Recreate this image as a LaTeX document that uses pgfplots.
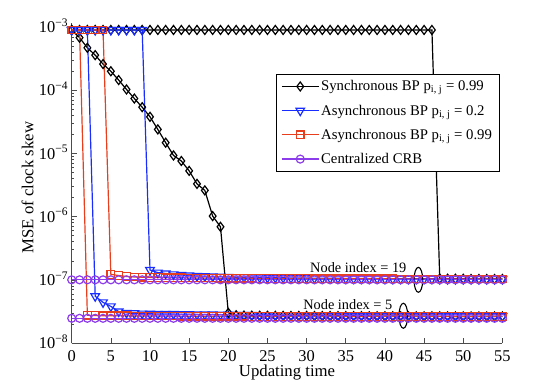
\documentclass[border=0pt]{standalone}
\usepackage{fontspec}
\setmainfont{Liberation Serif}
\usepackage{pgfplots}
\pgfplotsset{compat=1.18}
\usetikzlibrary{shapes.geometric}

\definecolor{myblue}{RGB}{25,45,255}
\definecolor{myred}{RGB}{232,62,30}
\definecolor{mypurple}{RGB}{140,60,235}

\begin{document}
\begin{tikzpicture}
\begin{axis}[
  scale only axis, width=430.7bp, height=320bp,
  ymode=log, xmin=0, xmax=55, ymin=1e-8, ymax=1.16e-3,
  axis x line*=bottom, axis y line*=left,
  axis line style={black!70, line width=0.8pt},
  tick style={black!70, line width=0.6pt},
  tick align=inside,
  major tick length=5bp, minor tick length=2.5bp,
  xtick={0,5,...,55},
  ytick={1e-8,1e-7,1e-6,1e-5,1e-4,1e-3},
  yticklabels={10\textsuperscript{−8},10\textsuperscript{−7},10\textsuperscript{−6},10\textsuperscript{−5},10\textsuperscript{−4},10\textsuperscript{−3}},
  minor ytick={2e-8,3e-8,4e-8,5e-8,6e-8,7e-8,8e-8,9e-8,
               2e-7,3e-7,4e-7,5e-7,6e-7,7e-7,8e-7,9e-7,
               2e-6,3e-6,4e-6,5e-6,6e-6,7e-6,8e-6,9e-6,
               2e-5,3e-5,4e-5,5e-5,6e-5,7e-5,8e-5,9e-5,
               2e-4,3e-4,4e-4,5e-4,6e-4,7e-4,8e-4,9e-4},
  /pgf/number format/assume math mode=true,
  tick label style={font=\fontsize{16.5}{18}\selectfont},
  xticklabel style={anchor=base, yshift=-18.7bp},
  yticklabel style={anchor=base east, yshift=-5.6bp},
  xlabel={Updating time},
  ylabel={MSE of clock skew},
  label style={font=\fontsize{16.8}{19}\selectfont},
  xlabel style={at={(axis description cs:0.5,-0.106)}, anchor=base},
  ylabel style={at={(axis description cs:-0.1026,0.486)}, anchor=center, rotate=0},
  legend style={at={(axis description cs:0.993,0.84)}, anchor=north east,
    draw=black, line width=0.8pt, fill=white, font=\fontsize{14.8}{16}\selectfont,
    inner xsep=5bp, inner ysep=4bp, row sep=8.5bp},
  legend cell align=left,
  legend image code/.code={\draw[mark repeat=2,mark phase=2] plot coordinates {(0bp,0bp)(18.3bp,0bp)(36.6bp,0bp)};},
  every axis plot/.append style={line width=1.2pt, mark options={solid}},
]

% Synchronous BP, node 19
\addplot[black, mark=diamond, mark size=4.5pt] coordinates {
(0,9e-4)(1,9e-4)(2,9e-4)(3,9e-4)(4,9e-4)(5,9e-4)(6,9e-4)(7,9e-4)(8,9e-4)(9,9e-4)
(10,9e-4)(11,9e-4)(12,9e-4)(13,9e-4)(14,9e-4)(15,9e-4)(16,9e-4)(17,9e-4)(18,9e-4)(19,9e-4)
(20,9e-4)(21,9e-4)(22,9e-4)(23,9e-4)(24,9e-4)(25,9e-4)(26,9e-4)(27,9e-4)(28,9e-4)(29,9e-4)
(30,9e-4)(31,9e-4)(32,9e-4)(33,9e-4)(34,9e-4)(35,9e-4)(36,9e-4)(37,9e-4)(38,9e-4)(39,9e-4)
(40,9e-4)(41,9e-4)(42,9e-4)(43,9e-4)(44,9e-4)(45,9e-4)(46,9e-4)
(47,1.05e-7)(48,1.04e-7)(49,1.04e-7)(50,1.04e-7)(51,1.03e-7)(52,1.03e-7)(53,1.03e-7)(54,1.03e-7)(55,1.03e-7)
};
\addlegendentry{Synchronous BP p\textsubscript{i, j} = 0.99}
% Synchronous BP, node 5
\addplot[black, mark=diamond, mark size=4.5pt, forget plot] coordinates {
(0,9e-4)(1,6.8e-4)(2,4.7e-4)(3,3.6e-4)(4,2.6e-4)(5,2.0e-4)(6,1.45e-4)(7,1.03e-4)(8,7.4e-5)(9,5.4e-5)
(10,3.8e-5)(11,2.4e-5)(12,1.48e-5)(13,9.3e-6)(14,7.6e-6)(15,5.3e-6)(16,3.3e-6)(17,2.6e-6)(18,1.02e-6)(19,6.9e-7)
(20,3.0e-8)(21,2.75e-8)(22,2.72e-8)(23,2.71e-8)(24,2.7e-8)(25,2.7e-8)(26,2.69e-8)(27,2.69e-8)(28,2.68e-8)(29,2.68e-8)
(30,2.68e-8)(31,2.67e-8)(32,2.67e-8)(33,2.67e-8)(34,2.66e-8)(35,2.66e-8)(36,2.66e-8)(37,2.66e-8)(38,2.65e-8)(39,2.65e-8)
(40,2.65e-8)(41,2.65e-8)(42,2.65e-8)(43,2.64e-8)(44,2.64e-8)(45,2.64e-8)(46,2.64e-8)(47,2.64e-8)(48,2.64e-8)(49,2.63e-8)
(50,2.63e-8)(51,2.63e-8)(52,2.63e-8)(53,2.63e-8)(54,2.63e-8)(55,2.63e-8)
};

% Asynchronous BP p=0.2, node 19
\addplot[myblue, mark=triangle, mark size=5pt, mark options={rotate=180}] coordinates {
(0,9e-4)(1,9e-4)(2,9e-4)(3,9e-4)(4,9e-4)(5,9e-4)(6,9e-4)(7,9e-4)(8,9e-4)(9,9e-4)
(10,1.43e-7)(11,1.30e-7)(12,1.26e-7)(13,1.22e-7)(14,1.19e-7)(15,1.17e-7)(16,1.15e-7)(17,1.14e-7)(18,1.13e-7)(19,1.12e-7)
(20,1.11e-7)(21,1.10e-7)(22,1.10e-7)(23,1.09e-7)(24,1.09e-7)(25,1.08e-7)(26,1.08e-7)(27,1.08e-7)(28,1.07e-7)(29,1.07e-7)
(30,1.07e-7)(31,1.06e-7)(32,1.06e-7)(33,1.06e-7)(34,1.06e-7)(35,1.05e-7)(36,1.05e-7)(37,1.05e-7)(38,1.05e-7)(39,1.05e-7)
(40,1.04e-7)(41,1.04e-7)(42,1.04e-7)(43,1.04e-7)(44,1.04e-7)(45,1.04e-7)(46,1.04e-7)(47,1.03e-7)(48,1.03e-7)(49,1.03e-7)
(50,1.03e-7)(51,1.03e-7)(52,1.03e-7)(53,1.03e-7)(54,1.03e-7)(55,1.03e-7)
};
\addlegendentry{Asynchronous BP p\textsubscript{i, j} = 0.2}
% Asynchronous BP p=0.2, node 5
\addplot[myblue, mark=triangle, mark size=5pt, mark options={rotate=180}, forget plot] coordinates {
(0,9e-4)(1,9e-4)(2,9e-4)
(3,5.5e-8)(4,4.4e-8)(5,3.8e-8)(6,3.15e-8)(7,3.0e-8)(8,2.95e-8)(9,2.92e-8)
(10,2.9e-8)(11,2.89e-8)(12,2.88e-8)(13,2.87e-8)(14,2.86e-8)(15,2.85e-8)(16,2.84e-8)(17,2.83e-8)(18,2.82e-8)(19,2.81e-8)
(20,2.8e-8)(21,2.79e-8)(22,2.78e-8)(23,2.77e-8)(24,2.76e-8)(25,2.75e-8)(26,2.75e-8)(27,2.74e-8)(28,2.74e-8)(29,2.73e-8)
(30,2.73e-8)(31,2.72e-8)(32,2.72e-8)(33,2.71e-8)(34,2.71e-8)(35,2.7e-8)(36,2.7e-8)(37,2.7e-8)(38,2.69e-8)(39,2.69e-8)
(40,2.69e-8)(41,2.68e-8)(42,2.68e-8)(43,2.68e-8)(44,2.67e-8)(45,2.67e-8)(46,2.67e-8)(47,2.66e-8)(48,2.66e-8)(49,2.66e-8)
(50,2.66e-8)(51,2.65e-8)(52,2.65e-8)(53,2.65e-8)(54,2.65e-8)(55,2.65e-8)
};

% Asynchronous BP p=0.99, node 19
\addplot[myred, mark=square, mark size=3.8pt] coordinates {
(0,9e-4)(1,9e-4)(2,9e-4)(3,9e-4)(4,9e-4)
(5,1.22e-7)(6,1.17e-7)(7,1.13e-7)(8,1.11e-7)(9,1.10e-7)
(10,1.09e-7)(11,1.09e-7)(12,1.08e-7)(13,1.08e-7)(14,1.08e-7)(15,1.07e-7)(16,1.07e-7)(17,1.07e-7)(18,1.07e-7)(19,1.06e-7)
(20,1.06e-7)(21,1.06e-7)(22,1.06e-7)(23,1.06e-7)(24,1.05e-7)(25,1.05e-7)(26,1.05e-7)(27,1.05e-7)(28,1.05e-7)(29,1.05e-7)
(30,1.05e-7)(31,1.04e-7)(32,1.04e-7)(33,1.04e-7)(34,1.04e-7)(35,1.04e-7)(36,1.04e-7)(37,1.04e-7)(38,1.04e-7)(39,1.04e-7)
(40,1.04e-7)(41,1.04e-7)(42,1.03e-7)(43,1.03e-7)(44,1.03e-7)(45,1.03e-7)(46,1.03e-7)(47,1.03e-7)(48,1.03e-7)(49,1.03e-7)
(50,1.03e-7)(51,1.03e-7)(52,1.03e-7)(53,1.03e-7)(54,1.03e-7)(55,1.03e-7)
};
\addlegendentry{Asynchronous BP p\textsubscript{i, j} = 0.99}
% Asynchronous BP p=0.99, node 5
\addplot[myred, mark=square, mark size=3.8pt, forget plot] coordinates {
(0,9e-4)(1,9e-4)
(2,2.75e-8)(3,2.72e-8)(4,2.7e-8)(5,2.7e-8)(6,2.69e-8)(7,2.69e-8)(8,2.68e-8)(9,2.68e-8)
(10,2.68e-8)(11,2.67e-8)(12,2.67e-8)(13,2.67e-8)(14,2.66e-8)(15,2.66e-8)(16,2.66e-8)(17,2.66e-8)(18,2.65e-8)(19,2.65e-8)
(20,2.65e-8)(21,2.65e-8)(22,2.65e-8)(23,2.64e-8)(24,2.64e-8)(25,2.64e-8)(26,2.64e-8)(27,2.64e-8)(28,2.64e-8)(29,2.63e-8)
(30,2.63e-8)(31,2.63e-8)(32,2.63e-8)(33,2.63e-8)(34,2.63e-8)(35,2.63e-8)(36,2.62e-8)(37,2.62e-8)(38,2.62e-8)(39,2.62e-8)
(40,2.62e-8)(41,2.62e-8)(42,2.62e-8)(43,2.62e-8)(44,2.62e-8)(45,2.62e-8)(46,2.62e-8)(47,2.62e-8)(48,2.62e-8)(49,2.62e-8)
(50,2.62e-8)(51,2.62e-8)(52,2.62e-8)(53,2.62e-8)(54,2.62e-8)(55,2.62e-8)
};

% Centralized CRB, node 19
\addplot[mypurple, mark=o, mark size=4pt] coordinates {
(0,1e-7)(1,1e-7)(2,1e-7)(3,1e-7)(4,1e-7)(5,1e-7)(6,1e-7)(7,1e-7)(8,1e-7)(9,1e-7)
(10,1e-7)(11,1e-7)(12,1e-7)(13,1e-7)(14,1e-7)(15,1e-7)(16,1e-7)(17,1e-7)(18,1e-7)(19,1e-7)
(20,1e-7)(21,1e-7)(22,1e-7)(23,1e-7)(24,1e-7)(25,1e-7)(26,1e-7)(27,1e-7)(28,1e-7)(29,1e-7)
(30,1e-7)(31,1e-7)(32,1e-7)(33,1e-7)(34,1e-7)(35,1e-7)(36,1e-7)(37,1e-7)(38,1e-7)(39,1e-7)
(40,1e-7)(41,1e-7)(42,1e-7)(43,1e-7)(44,1e-7)(45,1e-7)(46,1e-7)(47,1e-7)(48,1e-7)(49,1e-7)
(50,1e-7)(51,1e-7)(52,1e-7)(53,1e-7)(54,1e-7)(55,1e-7)
};
\addlegendentry{Centralized CRB}
% Centralized CRB, node 5
\addplot[mypurple, mark=o, mark size=4pt, forget plot] coordinates {
(0,2.46e-8)(1,2.46e-8)(2,2.46e-8)(3,2.46e-8)(4,2.46e-8)(5,2.46e-8)(6,2.46e-8)(7,2.46e-8)(8,2.46e-8)(9,2.46e-8)
(10,2.46e-8)(11,2.46e-8)(12,2.46e-8)(13,2.46e-8)(14,2.46e-8)(15,2.46e-8)(16,2.46e-8)(17,2.46e-8)(18,2.46e-8)(19,2.46e-8)
(20,2.46e-8)(21,2.46e-8)(22,2.46e-8)(23,2.46e-8)(24,2.46e-8)(25,2.46e-8)(26,2.46e-8)(27,2.46e-8)(28,2.46e-8)(29,2.46e-8)
(30,2.46e-8)(31,2.46e-8)(32,2.46e-8)(33,2.46e-8)(34,2.46e-8)(35,2.46e-8)(36,2.46e-8)(37,2.46e-8)(38,2.46e-8)(39,2.46e-8)
(40,2.46e-8)(41,2.46e-8)(42,2.46e-8)(43,2.46e-8)(44,2.46e-8)(45,2.46e-8)(46,2.46e-8)(47,2.46e-8)(48,2.46e-8)(49,2.46e-8)
(50,2.46e-8)(51,2.46e-8)(52,2.46e-8)(53,2.46e-8)(54,2.46e-8)(55,2.46e-8)
};

% annotations
\node[anchor=base, font=\fontsize{14.4}{16}\selectfont] at (axis cs:36.6,1.29e-7) {Node index = 19};
\node[anchor=base, font=\fontsize{14.4}{16}\selectfont] at (axis cs:35.26,3.45e-8) {Node index = 5};
\node[draw, ellipse, minimum width=8.7bp, minimum height=25bp, inner sep=0pt, line width=1.1pt] at (axis cs:44.27,1e-7) {};
\node[draw, ellipse, minimum width=8.7bp, minimum height=25bp, inner sep=0pt, line width=1.1pt] at (axis cs:42.35,2.7e-8) {};
\end{axis}
\pgfresetboundingbox
\path (-71.7bp,-42bp) rectangle (482.3bp,343bp);
\end{tikzpicture}
\end{document}
